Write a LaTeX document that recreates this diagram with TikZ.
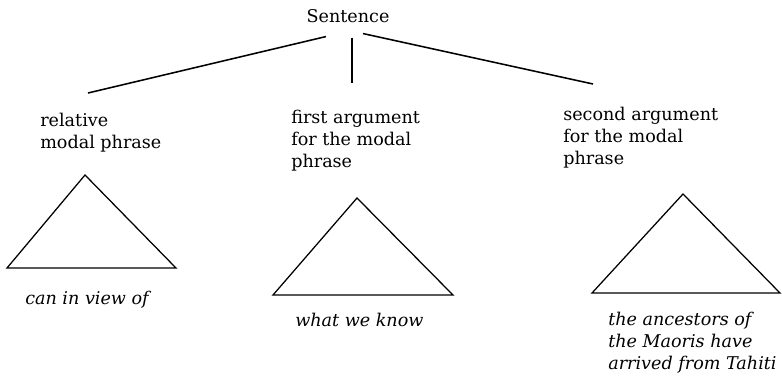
\documentclass[tikz,border=0pt]{standalone}
\usepackage{fontspec}
\setmainfont{DejaVu Serif}
\usepackage{tikz}

\begin{document}
\begin{tikzpicture}[
            x=0.025cm, y=-0.025cm,
            root/.style  ={inner sep=4pt, font=\fontsize{12.5}{15.6}\selectfont},
            label/.style ={anchor=north west, inner sep=0pt, align=left,
                           font=\fontsize{12.5}{15.6}\selectfont},
            leaf/.style  ={anchor=north west, inner sep=0pt, align=left,
                           font=\fontsize{12.5}{15.6}\selectfont\itshape},
            branch/.style={line width=1.1pt},
            roof/.style  ={line width=0.9pt, line join=miter}
        ]
        \useasboundingbox (0,0) rectangle (782,377);

        \node[root] (sent) at (348,16) {Sentence};

        \node[label] (rel)    at (40,113)  {relative\\modal phrase};
        \node[label] (first)  at (291,110) {first argument\\for the modal\\phrase};
        \node[label] (second) at (563,107) {second argument\\for the modal\\phrase};

        \coordinate (relTop)    at (88,93);
        \coordinate (firstTop)  at (352,83);
        \coordinate (secondTop) at (593,84);

        \draw[branch] (sent.south) ++(-22,8) -- (relTop);
        \draw[branch] (sent.south) ++(4,9)   -- (firstTop);
        \draw[branch] (sent.south) ++(15,5)  -- (secondTop);

        % roofs
        \draw[roof] (85,175)  -- (176,268) -- (7,268)   -- cycle;
        \draw[roof] (357,198) -- (453,295) -- (273,295) -- cycle;
        \draw[roof] (683,194) -- (780,293) -- (592,293) -- cycle;

        \node[leaf] (relLeaf)    at (25,291)  {can in view of};
        \node[leaf] (firstLeaf)  at (295,313) {what we know};
        \node[leaf] (secondLeaf) at (608,312) {the ancestors of\\the Maoris have\\arrived from Tahiti};
\end{tikzpicture}
\end{document}
